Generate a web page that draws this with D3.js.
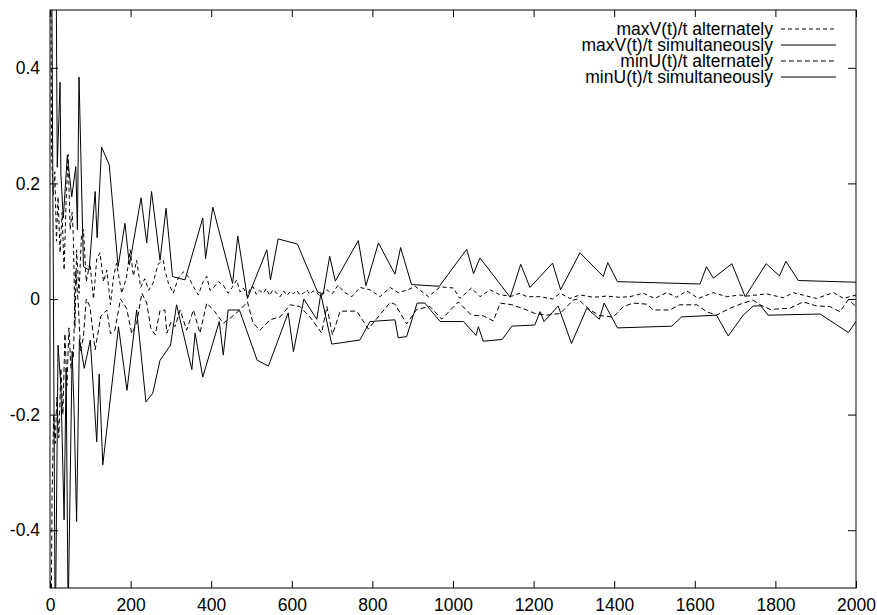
<!DOCTYPE html>
<html>
<head>
<meta charset="utf-8">
<script src="https://cdn.jsdelivr.net/npm/d3@7"></script>
<style>
  html, body { margin: 0; padding: 0; background: #fff; }
  svg { display: block; }
  text { font-family: "Liberation Sans", Arial, Helvetica, sans-serif; fill: #000; }
</style>
</head>
<body>
<svg id="chart" width="877" height="615"></svg>
<script>
// ---------------- data (t, value) ----------------
const seriesNames = [
  "maxV(t)/t alternately",
  "maxV(t)/t simultaneously",
  "minU(t)/t alternately",
  "minU(t)/t simultaneously"
];

const maxVAlternately = [
  [1,0.75],[4,0.25],[8,0.18],[12,0.22],[16,0.1],[20,0.177],[25,0.08],[30,0.15],[35,0.05],[40,0.17],
  [45,0.25],[50,0.12],[55,0.15],[58,0.107],[62,-0.05],[66,0.085],[72,0.01],[78,0.11],[83,0.12],[90,0.03],
  [99,0.062],[108,0.0],[116,0.07],[124,0.08],[133,0.03],[141,0.05],[150,-0.01],[158,0.04],[165,0.062],
  [178,0.01],[190,0.038],[199,0.085],[207,0.04],[215,0.067],[225,0.02],[235,0.035],[245,0.015],[256,0.028],
  [268,0.06],[281,0.067],[285,0.05],[294,0.027],[306,0.01],[318,0.036],[331,0.047],[343,0.039],[356,0.021],
  [368,0.007],[380,0.03],[389,0.039],[397,0.015],[405,0.019],[418,0.03],[430,0.024],[442,0.01],[452,0.02],
  [463,0.033],[472,0.012],[480,0.019],[490,0.004],[497,0.02],[504,0.021],[512,0.008],[520,0.015],[529,0.01],
  [537,0.018],[545,0.006],[553,0.016],[563,0.01],[571,0.004],[580,0.014],[588,0.006],[596,0.013],[604,0.009],
  [612,0.015],[620,0.007],[629,0.01],[637,0.016],[645,0.008],[653,0.014],[662,0.011],[672,0.004],[687,0.016],
  [700,0.009],[715,0.024],[730,0.012],[749,0.004],[769,0.02],[794,0.016],[819,0.004],[844,0.02],[864,0.011],
  [889,0.016],[906,0.022],[939,0.004],[968,0.021],[1001,0.019],[1017,0.001],[1046,0.019],[1067,0.004],
  [1092,0.016],[1117,0.007],[1146,0.005],[1166,0.01],[1183,0.004],[1216,0.004],[1247,0.0],[1266,0.01],
  [1290,0.001],[1315,0.007],[1348,0.003],[1381,0.005],[1414,0.003],[1439,0.004],[1472,0.01],[1501,0.001],
  [1530,0.011],[1555,0.003],[1580,0.014],[1609,0.001],[1646,0.011],[1679,0.004],[1712,0.007],[1729,0.005],
  [1778,0.009],[1820,0.002],[1844,0.011],[1902,0.001],[1944,0.011],[1969,0.001],[2000,0.007]
];

const maxVSimultaneously = [
  [2,0.75],[15,0.6],[18,0.228],[25,0.375],[27,0.215],[33,0.14],[43,0.249],[54,0.177],[64,0.229],[68,0.12],
  [72,0.384],[83,0.056],[97,0.05],[112,0.186],[117,0.106],[128,0.263],[147,0.232],[169,0.056],[186,0.131],
  [197,0.059],[226,0.175],[240,0.097],[252,0.186],[273,0.067],[288,0.157],[304,0.039],[335,0.033],[379,0.14],
  [386,0.07],[404,0.159],[453,0.027],[466,0.109],[490,0.001],[538,0.085],[547,0.033],[566,0.104],[614,0.095],
  [664,0.012],[678,0.009],[694,0.074],[708,0.031],[765,0.101],[784,0.023],[815,0.097],[856,0.043],[870,0.089],
  [897,0.025],[966,0.022],[1034,0.086],[1051,0.044],[1067,0.071],[1142,0.003],[1168,0.06],[1191,0.02],
  [1247,0.062],[1267,0.016],[1315,0.08],[1373,0.039],[1384,0.063],[1408,0.03],[1613,0.026],[1629,0.056],
  [1646,0.036],[1692,0.061],[1725,0.004],[1777,0.061],[1810,0.04],[1826,0.065],[1857,0.032],[2000,0.029]
];

const minUAlternately = [
  [1,-0.75],[5,-0.35],[9,-0.2],[13,-0.25],[17,-0.17],[22,-0.24],[27,-0.12],[32,-0.2],[37,-0.06],[42,-0.15],
  [47,-0.05],[52,-0.12],[58,-0.1],[64,0.05],[70,-0.007],[76,-0.09],[83,-0.065],[90,0.0],[99,-0.013],
  [112,-0.088],[126,-0.03],[141,-0.019],[150,-0.06],[161,-0.054],[175,0.0],[190,-0.016],[203,-0.06],
  [215,-0.042],[228,0.01],[240,-0.007],[250,-0.05],[261,-0.062],[273,-0.02],[285,-0.019],[290,-0.059],
  [300,-0.04],[310,-0.048],[323,-0.019],[339,-0.054],[356,-0.019],[372,-0.059],[389,-0.007],[409,-0.022],
  [430,-0.042],[451,-0.031],[471,-0.019],[490,-0.005],[504,-0.042],[521,-0.054],[546,-0.036],[571,-0.031],
  [596,-0.01],[620,-0.013],[645,-0.031],[666,-0.051],[674,-0.059],[687,-0.013],[701,-0.062],[720,-0.021],
  [761,-0.021],[790,-0.052],[806,-0.038],[844,-0.006],[856,-0.009],[885,-0.043],[910,-0.018],[943,-0.013],
  [972,-0.035],[1013,-0.005],[1046,-0.028],[1075,-0.029],[1100,-0.038],[1117,-0.007],[1146,-0.01],
  [1183,-0.019],[1203,-0.025],[1232,-0.028],[1266,-0.025],[1298,-0.002],[1310,0.0],[1340,-0.019],
  [1365,-0.029],[1398,-0.031],[1423,-0.013],[1447,-0.007],[1481,-0.009],[1497,-0.019],[1538,-0.019],
  [1563,-0.01],[1605,-0.01],[1629,-0.022],[1654,-0.028],[1687,-0.016],[1720,-0.007],[1745,-0.002],
  [1762,-0.01],[1787,-0.018],[1836,-0.016],[1869,-0.005],[1902,-0.012],[1935,-0.013],[1960,-0.022],
  [1981,-0.001],[2000,-0.013]
];

const minUSimultaneously = [
  [3,0.75],[13,-0.6],[20,-0.08],[27,-0.15],[35,-0.382],[40,-0.12],[45,-0.55],[55,-0.09],[60,-0.2],
  [66,-0.385],[73,-0.07],[85,-0.12],[100,-0.071],[116,-0.247],[122,-0.13],[131,-0.287],[170,-0.048],
  [191,-0.158],[215,-0.019],[238,-0.178],[255,-0.163],[273,-0.106],[299,-0.08],[314,-0.01],[352,-0.122],
  [360,-0.059],[379,-0.135],[420,-0.039],[430,-0.097],[442,-0.019],[470,-0.019],[514,-0.106],[542,-0.116],
  [591,-0.024],[604,-0.091],[630,0.0],[662,-0.035],[672,0.009],[699,-0.078],[720,-0.076],[769,-0.071],
  [794,-0.039],[856,-0.036],[864,-0.067],[885,-0.065],[911,-0.007],[930,-0.007],[968,-0.039],[1026,-0.039],
  [1057,-0.063],[1063,-0.048],[1075,-0.073],[1122,-0.07],[1146,-0.047],[1203,-0.045],[1216,-0.022],
  [1226,-0.039],[1261,-0.012],[1294,-0.077],[1332,-0.016],[1363,-0.035],[1375,-0.007],[1408,-0.05],
  [1543,-0.047],[1567,-0.031],[1654,-0.028],[1683,-0.064],[1720,-0.028],[1745,-0.012],[1764,-0.012],
  [1782,-0.028],[1911,-0.026],[1981,-0.058],[2000,-0.039]
];

const xTicks = [0,200,400,600,800,1000,1200,1400,1600,1800,2000];
const yTicks = [-0.4,-0.2,0,0.2,0.4];

// ---------------- chart ----------------
const svg = d3.select("#chart");
const plotLeft = 50, plotRight = 856, plotTop = 10, plotBottom = 588;
const x = d3.scaleLinear().domain([0, 2000]).range([plotLeft, plotRight]);
const y = d3.scaleLinear().domain([-0.5, 0.5]).range([plotBottom, plotTop]);

const fontSize = 17.5;

svg.append("defs").append("clipPath").attr("id", "plotclip")
  .append("rect").attr("x", plotLeft).attr("y", plotTop)
  .attr("width", plotRight - plotLeft).attr("height", plotBottom - plotTop);

function styleAxis(g) {
  g.select(".domain").remove();
  g.selectAll(".tick line").attr("stroke", "#000").attr("stroke-width", 1);
  g.selectAll(".tick text").style("font-size", fontSize + "px")
    .style("font-family", '"Liberation Sans", Arial, Helvetica, sans-serif');
}

const fmt = d => d === 0 ? "0" : String(d);

svg.append("g").attr("transform", `translate(0,${plotBottom})`)
  .call(d3.axisBottom(x).tickValues(xTicks).tickSize(-7).tickPadding(11).tickFormat(d3.format("d")))
  .call(styleAxis);
svg.append("g").attr("transform", `translate(0,${plotTop})`)
  .call(d3.axisTop(x).tickValues(xTicks).tickSize(-7).tickFormat(""))
  .call(styleAxis);
svg.append("g").attr("transform", `translate(${plotLeft},0)`)
  .call(d3.axisLeft(y).tickValues(yTicks).tickSize(-8).tickPadding(10).tickFormat(fmt))
  .call(styleAxis);
svg.append("g").attr("transform", `translate(${plotRight},0)`)
  .call(d3.axisRight(y).tickValues(yTicks).tickSize(-8).tickFormat(""))
  .call(styleAxis);

const line = d3.line().x(d => x(d[0])).y(d => y(d[1]));

const series = [
  { data: maxVAlternately, dash: "4,3" },
  { data: maxVSimultaneously, dash: null },
  { data: minUAlternately, dash: "5,3" },
  { data: minUSimultaneously, dash: null }
];

const plot = svg.append("g").attr("clip-path", "url(#plotclip)");
series.forEach(s => {
  plot.append("path").datum(s.data)
    .attr("d", line)
    .attr("fill", "none")
    .attr("stroke", "#000")
    .attr("stroke-width", 1)
    .attr("stroke-dasharray", s.dash);
});

// frame
svg.append("rect").attr("x", plotLeft).attr("y", plotTop)
  .attr("width", plotRight - plotLeft).attr("height", plotBottom - plotTop)
  .attr("fill", "none").attr("stroke", "#000").attr("stroke-width", 1);

// legend
const legendTextX = 773, legendLineX1 = 781, legendLineX2 = 836;
const legendY0 = 29, legendStep = 16;
const legend = svg.append("g");
seriesNames.forEach((name, i) => {
  const ly = legendY0 + i * legendStep;
  legend.append("text").attr("x", legendTextX).attr("y", ly).attr("dy", "0.35em")
    .attr("text-anchor", "end").style("font-size", fontSize + "px").text(name);
  legend.append("line").attr("x1", legendLineX1).attr("x2", legendLineX2)
    .attr("y1", ly).attr("y2", ly)
    .attr("stroke", "#000").attr("stroke-width", 1)
    .attr("stroke-dasharray", series[i].dash);
});
</script>
</body>
</html>
